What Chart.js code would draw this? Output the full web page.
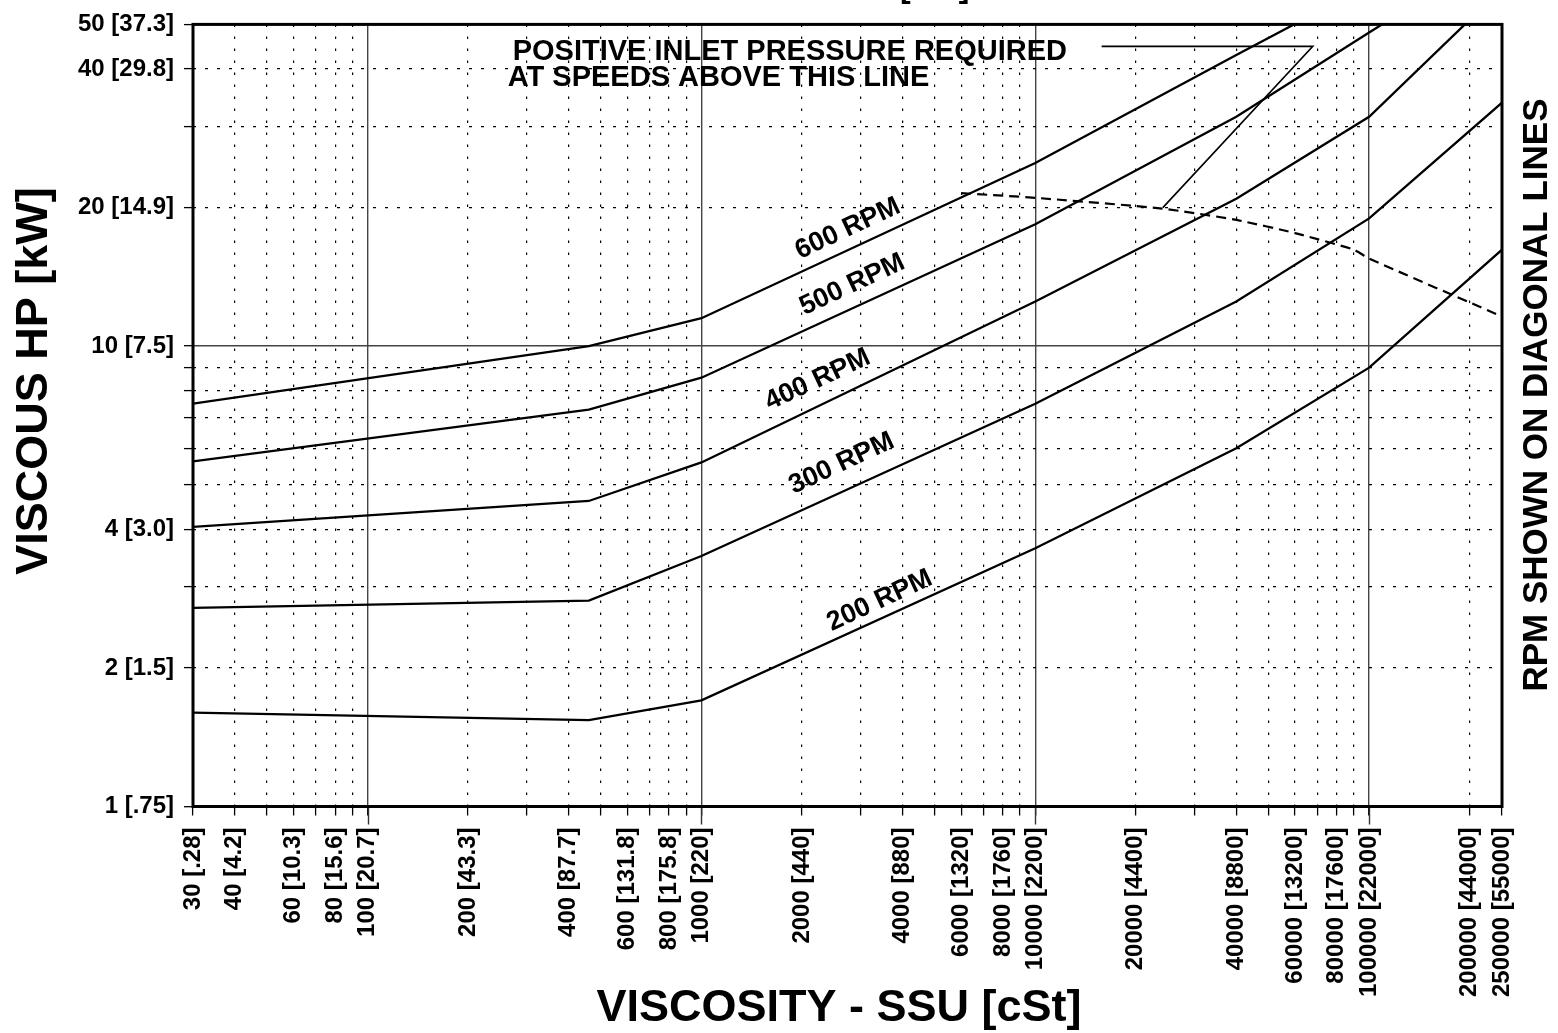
<!DOCTYPE html>
<html>
<head>
<meta charset="utf-8">
<script src="https://cdn.jsdelivr.net/npm/chart.js@4.4.0/dist/chart.umd.min.js"></script>
<style>
  html, body { margin: 0; padding: 0; background: #fff; }
  #wrap { width: 1558px; height: 1033px; }
</style>
</head>
<body>
<div id="wrap"><canvas id="viscChart" width="1558" height="1033"></canvas></div>
<script>
// viscosity break points (SSU) shared by the RPM curves
var viscosity = [30, 460, 1000, 10000, 40000, 100000, 250000];
var hp600 = [7.5, 10.0, 11.5, 25.0, 42.9, 61, null];
var hp500 = [5.62, 7.28, 8.54, 18.4, 31.5, 48, 73];
var hp400 = [4.05, 4.61, 5.59, 12.5, 20.9, 31.5, 59.8];
var hp300 = [2.70, 2.80, 3.50, 7.50, 12.5, 18.95, 33.8];
var hp200 = [1.60, 1.54, 1.70, 3.64, 6.0, 8.98, 16.2];

// dashed "positive inlet pressure" line
var inletVisc = [6000, 10000, 24000, 40000, 60000, 90000, 100000, 250000];
var inletHp = [21.5, 21.0, 19.9, 18.8, 17.6, 16.2, 15.5, 11.6];

// leader from the note to the dashed line
var leaderVisc = [15800, 67800, 24100];
var leaderHp = [44.8, 44.8, 20.0];

// labels on the curves (centre of text, in data units)
var rpmLabels = ['600 RPM', '500 RPM', '400 RPM', '300 RPM', '200 RPM'];
var rpmLabelVisc = [2745, 2830, 2230, 2630, 3420];
var rpmLabelHp = [18.0, 13.6, 8.45, 5.56, 2.80];

var noteLines = ['POSITIVE INLET PRESSURE REQUIRED', 'AT SPEEDS ABOVE THIS LINE'];
var noteVisc = [272, 263];
var noteHp = [41.9, 36.8];

// axis ticks
var xTicks = [30, 40, 50, 60, 70, 80, 90,
  100, 200, 300, 400, 500, 600, 700, 800, 900,
  1000, 2000, 3000, 4000, 5000, 6000, 7000, 8000, 9000,
  10000, 20000, 30000, 40000, 50000, 60000, 70000, 80000, 90000,
  100000, 200000, 250000];
var xLabelValues = [30, 40, 60, 80, 100, 200, 400, 600, 800, 1000, 2000, 4000, 6000, 8000,
  10000, 20000, 40000, 60000, 80000, 100000, 200000, 250000];
var xTickLabels = ['30 [.28]', '40 [4.2]', '60 [10.3]', '80 [15.6]', '100 [20.7]', '200 [43.3]',
  '400 [87.7]', '600 [131.8]', '800 [175.8]', '1000 [220]', '2000 [440]', '4000 [880]',
  '6000 [1320]', '8000 [1760]', '10000 [2200]', '20000 [4400]', '40000 [8800]',
  '60000 [13200]', '80000 [17600]', '100000 [22000]', '200000 [44000]', '250000 [55000]'];
var yTicks = [1, 2, 3, 4, 5, 6, 7, 8, 9, 10, 20, 30, 40, 50];
var yLabelValues = [1, 2, 4, 10, 20, 40, 50];
var yTickLabels = ['1 [.75]', '2 [1.5]', '4 [3.0]', '10 [7.5]', '20 [14.9]', '40 [29.8]', '50 [37.3]'];

var fontFamily = "'Liberation Sans', Arial, Helvetica, sans-serif";
Chart.defaults.font.family = fontFamily;
Chart.defaults.color = '#000';

function points(xs, ys) {
  var out = [];
  for (var i = 0; i < xs.length; i++) {
    if (ys[i] !== null) out.push({x: xs[i], y: ys[i]});
  }
  return out;
}

function isDecade(v) {
  var l = Math.log10(v);
  return Math.abs(l - Math.round(l)) < 1e-9;
}

function curveSet(label, ys) {
  return {
    label: label,
    data: points(viscosity, ys),
    borderColor: '#000',
    borderWidth: 2.3,
    pointRadius: 0,
    tension: 0,
    fill: false
  };
}

var gridStyle = {
  color: function (c) { return c.tick && isDecade(c.tick.value) ? '#444' : '#000'; },
  lineWidth: function (c) { return c.tick && isDecade(c.tick.value) ? 1.4 : 1.2; },
  tickLength: 9,
  tickColor: '#000',
  tickWidth: 1.3
};

var extras = {
  id: 'extras',
  afterDraw: function (chart) {
    var ctx = chart.ctx;
    var area = chart.chartArea;
    var xs = chart.scales.x;
    var ys = chart.scales.y;
    ctx.save();

    // decade lines run a bit below the axis
    ctx.strokeStyle = '#333';
    ctx.lineWidth = 1.4;
    [100, 1000, 10000, 100000].forEach(function (v) {
      var px = Math.round(xs.getPixelForValue(v)) + 0.5;
      ctx.beginPath();
      ctx.moveTo(px, area.bottom);
      ctx.lineTo(px, area.bottom + 18);
      ctx.stroke();
    });

    // frame
    ctx.strokeStyle = '#000';
    ctx.lineWidth = 3;
    ctx.strokeRect(area.left, area.top, area.right - area.left, area.bottom - area.top);

    ctx.fillStyle = '#000';

    // rpm labels along the lines
    ctx.font = 'bold 27px ' + fontFamily;
    ctx.textAlign = 'center';
    ctx.textBaseline = 'middle';
    rpmLabels.forEach(function (t, i) {
      ctx.save();
      ctx.translate(xs.getPixelForValue(rpmLabelVisc[i]), ys.getPixelForValue(rpmLabelHp[i]));
      ctx.rotate(-25 * Math.PI / 180);
      ctx.fillText(t, 0, 0);
      ctx.restore();
    });

    // note
    ctx.font = 'bold 29px ' + fontFamily;
    ctx.textAlign = 'left';
    ctx.textBaseline = 'alphabetic';
    noteLines.forEach(function (t, i) {
      ctx.fillText(t, xs.getPixelForValue(noteVisc[i]), ys.getPixelForValue(noteHp[i]));
    });

    // axis titles
    ctx.textAlign = 'center';
    ctx.textBaseline = 'middle';
    ctx.font = 'bold 45px ' + fontFamily;
    ctx.fillText('VISCOSITY - SSU [cSt]', 839, 1009);
    ctx.save();
    ctx.translate(35, 381);
    ctx.rotate(-Math.PI / 2);
    ctx.fillText('VISCOUS HP [kW]', 0, 0);
    ctx.restore();
    ctx.font = 'bold 35px ' + fontFamily;
    ctx.save();
    ctx.translate(1537, 395);
    ctx.rotate(-Math.PI / 2);
    ctx.fillText('RPM SHOWN ON DIAGONAL LINES', 0, 0);
    ctx.restore();

    // top title is cut off by the page edge
    ctx.font = 'bold 32px ' + fontFamily;
    ctx.textAlign = 'left';
    ctx.textBaseline = 'alphabetic';
    ctx.fillText('[kW]', 900, -3);

    ctx.restore();
  }
};

var ctx = document.getElementById('viscChart').getContext('2d');
var myChart = new Chart(ctx, {
  type: 'line',
  data: {
    datasets: [
      curveSet('600 RPM', hp600),
      curveSet('500 RPM', hp500),
      curveSet('400 RPM', hp400),
      curveSet('300 RPM', hp300),
      curveSet('200 RPM', hp200),
      {
        label: 'inlet',
        data: points(inletVisc, inletHp),
        borderColor: '#000',
        borderWidth: 2.2,
        borderDash: [10, 6],
        pointRadius: 0,
        tension: 0.2,
        fill: false
      },
      {
        label: 'leader',
        data: points(leaderVisc, leaderHp),
        borderColor: '#000',
        borderWidth: 1.6,
        pointRadius: 0,
        tension: 0,
        fill: false
      }
    ]
  },
  plugins: [extras],
  options: {
    responsive: false,
    animation: false,
    devicePixelRatio: 1,
    layout: { padding: { top: 21, right: 56, left: 0, bottom: 0 } },
    plugins: { legend: { display: false }, tooltip: { enabled: false } },
    scales: {
      x: {
        type: 'logarithmic',
        min: 30,
        max: 250000,
        afterBuildTicks: function (scale) {
          scale.ticks = xTicks.map(function (v) { return {value: v}; });
        },
        afterFit: function (scale) { scale.height = 226.5; },
        ticks: {
          autoSkip: false,
          minRotation: 90,
          maxRotation: 90,
          padding: 12,
          color: '#000',
          font: { size: 24, weight: 'bold' },
          callback: function (v) {
            var i = xLabelValues.indexOf(v);
            return i < 0 ? '' : xTickLabels[i];
          }
        },
        grid: gridStyle,
        border: {
          display: false,
          dash: function (c) { return c.tick && !isDecade(c.tick.value) ? [2.5, 9.5] : []; }
        }
      },
      y: {
        type: 'logarithmic',
        min: 1,
        max: 50,
        afterBuildTicks: function (scale) {
          scale.ticks = yTicks.map(function (v) { return {value: v}; });
        },
        afterFit: function (scale) { scale.width = 193; },
        ticks: {
          autoSkip: false,
          padding: 10,
          color: '#000',
          font: { size: 24, weight: 'bold' },
          callback: function (v) {
            var i = yLabelValues.indexOf(v);
            return i < 0 ? '' : yTickLabels[i];
          }
        },
        grid: gridStyle,
        border: {
          display: false,
          dash: function (c) { return c.tick && !isDecade(c.tick.value) ? [3, 9] : []; }
        }
      }
    }
  }
});
</script>
</body>
</html>
